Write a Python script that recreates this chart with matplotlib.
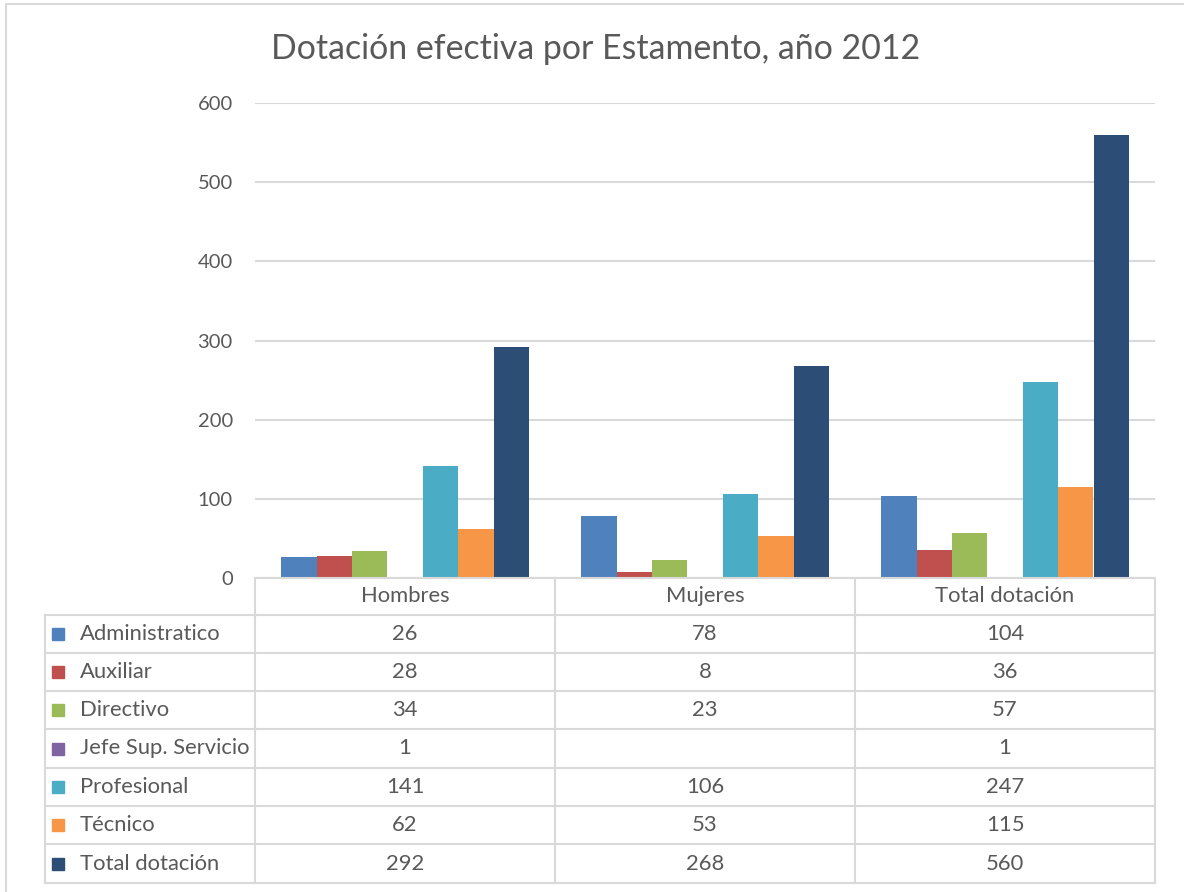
import numpy as np
import matplotlib
matplotlib.use("Agg")
import matplotlib.pyplot as plt
from matplotlib.patches import Rectangle

categories = ["Hombres", "Mujeres", "Total dotación"]
series = ["Administratico", "Auxiliar", "Directivo", "Jefe Sup. Servicio",
          "Profesional", "Técnico", "Total dotación"]
values = [
    [26, 78, 104],
    [28, 8, 36],
    [34, 23, 57],
    [1, None, 1],
    [141, 106, 247],
    [62, 53, 115],
    [292, 268, 560],
]
colors = ["#4F81BD", "#C0504D", "#9BBB59", "#8064A2",
          "#4BACC6", "#F79646", "#2C4D75"]
yticks = [0, 100, 200, 300, 400, 500, 600]

plt.rcParams['font.family'] = ['Lato', 'DejaVu Sans']
txt = "#595959"
grid = "#D9D9D9"

W, H = 1184, 892
fig = plt.figure(figsize=(W / 100, H / 100), dpi=100)

def fx(px):
    return px / W

def fy(py):
    return 1 - py / H

# outer chart border
fig.add_artist(Rectangle((fx(6), fy(1000)), 2, fy(4) - fy(1000),
                         transform=fig.transFigure, fill=False,
                         edgecolor=grid, lw=1.5))

L, R, T, B = 255, 1155, 103, 578
ax = fig.add_axes([fx(L), fy(B), fx(R) - fx(L), fy(T) - fy(B)])

n = len(series)
bw = 0.118
x = np.arange(len(categories))
for i, (name, vals, c) in enumerate(zip(series, values, colors)):
    v = [0 if a is None else a for a in vals]
    ax.bar(x + (i - (n - 1) / 2) * bw, v, bw, color=c, zorder=3)

ax.set_xlim(-0.5, len(categories) - 0.5)
ax.set_ylim(0, 600)
ax.set_yticks(yticks)
ax.set_yticklabels([str(t) for t in yticks], fontsize=14.5, color=txt)
ax.tick_params(axis='y', length=0, pad=16)
ax.set_xticks([])
ax.grid(axis='y', color=grid, lw=1.5, zorder=0)
for s in ax.spines.values():
    s.set_visible(False)

fig.text(fx(596), fy(49), "Dotación efectiva por Estamento, año 2012",
         ha='center', va='center', fontsize=24.4, color=txt)

# data table
tab = fig.add_axes([0, 0, 1, 1], facecolor='none')
tab.set_xlim(0, W)
tab.set_ylim(H, 0)
tab.axis('off')

row_edges = [578, 615, 653, 691, 729, 768, 806, 844, 883]
col_edges = [L, 555, 855, R]
lw = 1.5
fs = 15.8
tab.plot([L, R], [row_edges[0]] * 2, color=grid, lw=lw)
for y in row_edges[1:]:
    tab.plot([45, R], [y, y], color=grid, lw=lw)
for xc in col_edges:
    tab.plot([xc, xc], [row_edges[0], row_edges[-1]], color=grid, lw=lw)
tab.plot([45, 45], [row_edges[1], row_edges[-1]], color=grid, lw=lw)

for j, cat in enumerate(categories):
    cx = (col_edges[j] + col_edges[j + 1]) / 2
    tab.text(cx, (row_edges[0] + row_edges[1]) / 2, cat, ha='center',
             va='center', fontsize=fs, color=txt)

for i, (name, vals, c) in enumerate(zip(series, values, colors)):
    cy = (row_edges[i + 1] + row_edges[i + 2]) / 2
    tab.add_patch(Rectangle((52, cy - 6), 12, 12, color=c))
    tab.text(80, cy, name, ha='left', va='center', fontsize=fs, color=txt)
    for j, v in enumerate(vals):
        if v is None:
            continue
        cx = (col_edges[j] + col_edges[j + 1]) / 2
        tab.text(cx, cy, str(v), ha='center', va='center', fontsize=fs,
                 color=txt)

fig.savefig("out.png", dpi=100)
